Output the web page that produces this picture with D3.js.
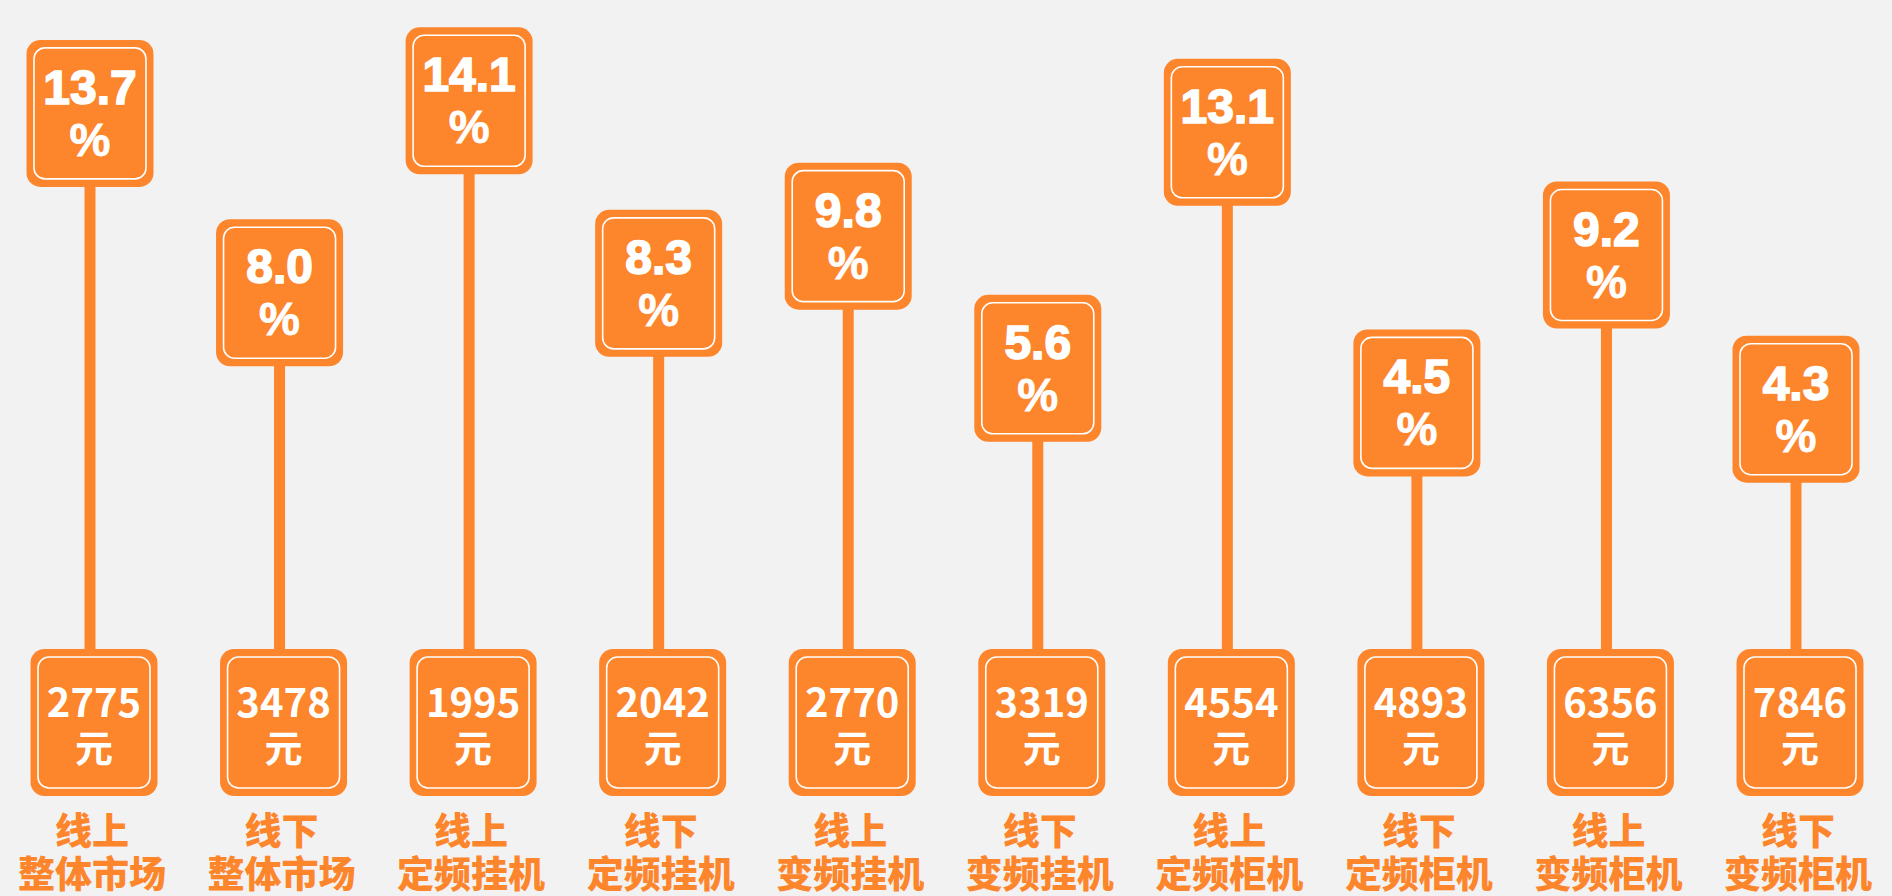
<!DOCTYPE html>
<html>
<head>
<meta charset="utf-8">
<script src="https://cdn.jsdelivr.net/npm/d3@7"></script>
<style>
  body { margin: 0; background: #f2f2f2; }
  svg { display: block; }
</style>
</head>
<body>
<div id="chart"></div>
<script>
// data
var channels = ["线上", "线下", "线上", "线下", "线上", "线下", "线上", "线下", "线上", "线下"];
var segments = ["整体市场", "整体市场", "定频挂机", "定频挂机", "变频挂机", "变频挂机", "定频柜机", "定频柜机", "变频柜机", "变频柜机"];
var shares = [13.7, 8.0, 14.1, 8.3, 9.8, 5.6, 13.1, 4.5, 9.2, 4.3];
var prices = [2775, 3478, 1995, 2042, 2770, 3319, 4554, 4893, 6356, 7846];

var svgWidth = 1892;
var svgHeight = 896;
var orange = "#fd852b";

var boxW = 127, boxH = 147, bottomTop = 649;

var svg = d3.select("#chart")
  .append("svg")
  .attr("width", svgWidth)
  .attr("height", svgHeight);

var rows = shares.map(function (s, i) {
  return { i: i, share: s, price: prices[i], channel: channels[i], segment: segments[i] };
});

// scales
var xScale = d3.scalePoint()
  .domain(d3.range(shares.length))
  .range([90, 1796]);

var yScale = d3.scaleLinear()
  .domain([0, 15])
  .range([471, -1]);

var groups = svg.selectAll(".item")
  .data(rows)
  .enter()
  .append("g")
  .attr("class", "item");

// stems
groups.append("rect")
  .attr("x", d => xScale(d.i) - 5.5)
  .attr("width", 11)
  .attr("y", d => yScale(d.share) + boxH - 2)
  .attr("height", d => bottomTop - (yScale(d.share) + boxH) + 4)
  .attr("fill", orange);

// box drawing helper
function drawBox(g, cx, top) {
  g.append("rect")
    .attr("x", cx - boxW / 2)
    .attr("y", top)
    .attr("width", boxW)
    .attr("height", boxH)
    .attr("rx", 14)
    .attr("fill", orange);
  g.append("rect")
    .attr("x", cx - boxW / 2 + 7.5)
    .attr("y", top + 8)
    .attr("width", boxW - 15)
    .attr("height", boxH - 16)
    .attr("rx", 11)
    .attr("fill", "none")
    .attr("stroke", "#fff")
    .attr("stroke-width", 1.6);
}

// top boxes (share)
groups.each(function (d) {
  var g = d3.select(this);
  var cx = xScale(d.i);
  var top = yScale(d.share);
  drawBox(g, cx, top);
  g.append("text")
    .attr("x", cx)
    .attr("y", top + 64)
    .attr("text-anchor", "middle")
    .attr("font-family", "Liberation Sans, Arial, sans-serif")
    .attr("font-weight", "bold")
    .attr("font-size", 48)
    .attr("fill", "#fff")
    .attr("stroke", "#fff")
    .attr("stroke-width", 1.6)
    .text(d.share.toFixed(1));
  g.append("text")
    .attr("x", cx)
    .attr("y", top + 116)
    .attr("text-anchor", "middle")
    .attr("font-family", "Liberation Sans, Arial, sans-serif")
    .attr("font-weight", "bold")
    .attr("font-size", 46)
    .attr("fill", "#fff")
    .attr("stroke", "#fff")
    .attr("stroke-width", 0.8)
    .text("%");
});

// bottom boxes (price)
groups.each(function (d) {
  var g = d3.select(this);
  var cx = xScale(d.i) + 4;
  drawBox(g, cx, bottomTop);
  g.append("text")
    .attr("x", cx)
    .attr("y", bottomTop + 68)
    .attr("text-anchor", "middle")
    .attr("font-family", "Noto Sans CJK SC, sans-serif")
    .attr("font-weight", 700)
    .attr("font-size", 40)
    .attr("fill", "#fff")
    .text(d.price);
  g.append("text")
    .attr("x", cx)
    .attr("y", bottomTop + 113)
    .attr("text-anchor", "middle")
    .attr("font-family", "Noto Sans CJK SC, sans-serif")
    .attr("font-weight", 700)
    .attr("font-size", 38)
    .attr("fill", "#fff")
    .text("元");
});

// category labels
groups.append("text")
  .attr("x", d => xScale(d.i) + 2)
  .attr("y", 845)
  .attr("text-anchor", "middle")
  .attr("font-family", "Noto Sans CJK SC, sans-serif")
  .attr("font-weight", 900)
  .attr("font-size", 37)
  .attr("fill", orange)
  .text(d => d.channel);

groups.append("text")
  .attr("x", d => xScale(d.i) + 2)
  .attr("y", 888)
  .attr("text-anchor", "middle")
  .attr("font-family", "Noto Sans CJK SC, sans-serif")
  .attr("font-weight", 900)
  .attr("font-size", 37)
  .attr("fill", orange)
  .text(d => d.segment);
</script>
</body>
</html>
